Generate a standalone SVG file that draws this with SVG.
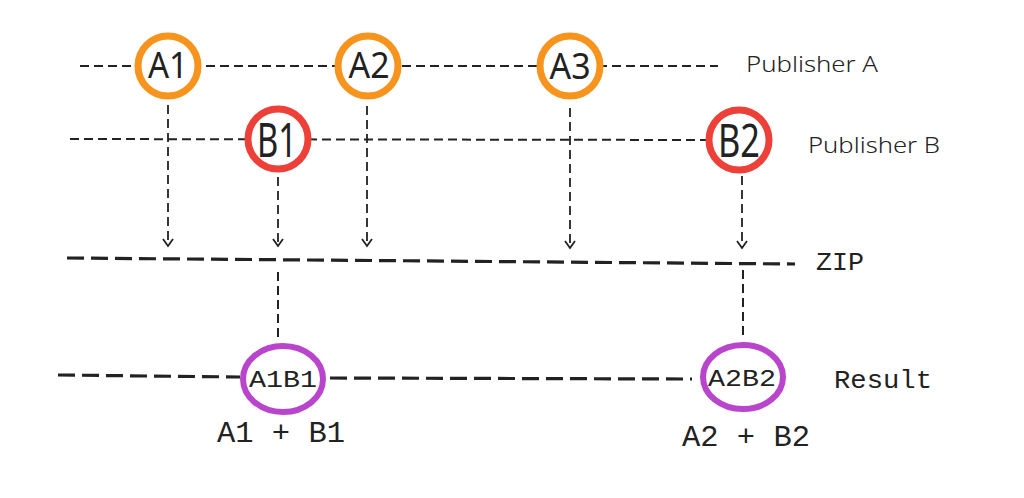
<svg xmlns="http://www.w3.org/2000/svg" width="1024" height="498" viewBox="0 0 1024 498">
<style>
.thin{stroke:#222;stroke-width:2;fill:none;stroke-dasharray:9 5}
.thick{stroke:#222;stroke-width:3.2;fill:none;stroke-dasharray:17 7}
.arr{stroke:#222;stroke-width:1.8;fill:none;stroke-dasharray:9 5;marker-end:url(#ah)}
.a{fill:#fff;stroke:#F7941D;stroke-width:7}
.b{fill:#fff;stroke:#EC4039;stroke-width:7}
.r{fill:#fff;stroke:#B845CC;stroke-width:6}
.lbl{font-family:"Noto Sans",sans-serif;fill:#222;text-anchor:middle}
.pub{font-family:"Noto Sans",sans-serif;font-weight:300;font-size:22px;fill:#222}
.mono{font-family:"Liberation Mono","DejaVu Sans Mono",monospace;fill:#222}
</style>
<defs>
<marker id="ah" markerUnits="userSpaceOnUse" markerWidth="14" markerHeight="14" refX="0" refY="0" viewBox="-8 -7 10 14" orient="auto">
<path d="M-7,-5 L0,0 L-7,5" fill="none" stroke="#222" stroke-width="1.8"/>
</marker>
</defs>
<g id="connectors">
<line class="thin" x1="80" y1="66" x2="718" y2="66"/>
<line class="thin" x1="70" y1="139" x2="710" y2="140"/>
<line class="arr" x1="168" y1="105" x2="168" y2="246"/>
<line class="arr" x1="278" y1="177" x2="278" y2="246"/>
<line class="arr" x1="367" y1="106" x2="367" y2="246"/>
<line class="arr" x1="570" y1="108" x2="570" y2="248"/>
<line class="arr" x1="742" y1="176" x2="742" y2="248"/>
<line class="thick" x1="67" y1="258" x2="795" y2="264"/>
<line class="thin" x1="278" y1="272" x2="278" y2="340"/>
<line class="thin" x1="743" y1="270" x2="743" y2="338"/>
<line class="thick" x1="58" y1="375" x2="240" y2="377"/>
<line class="thick" x1="330" y1="378" x2="692" y2="379"/>
</g>
<g id="A1"><circle class="a" cx="168" cy="66" r="30"/><text class="lbl" x="168" y="78" font-size="36" textLength="40" lengthAdjust="spacingAndGlyphs">A1</text></g>
<g id="A2"><circle class="a" cx="368" cy="66" r="30"/><text class="lbl" x="369" y="78" font-size="36" textLength="41" lengthAdjust="spacingAndGlyphs">A2</text></g>
<g id="A3"><circle class="a" cx="570" cy="66" r="30"/><text class="lbl" x="570" y="79" font-size="36" textLength="41" lengthAdjust="spacingAndGlyphs">A3</text></g>
<g id="B1"><circle class="b" cx="278" cy="139" r="30"/><text class="lbl" x="277" y="157" font-size="48" textLength="40" lengthAdjust="spacingAndGlyphs">B1</text></g>
<g id="B2"><circle class="b" cx="739" cy="140" r="30"/><text class="lbl" x="739" y="157" font-size="46" textLength="42" lengthAdjust="spacingAndGlyphs">B2</text></g>
<g id="A1B1"><ellipse class="r" cx="283" cy="379" rx="40" ry="33"/><text class="mono" x="249" y="387" font-size="24" textLength="68" lengthAdjust="spacingAndGlyphs">A1B1</text></g>
<g id="A2B2"><ellipse class="r" cx="743" cy="377" rx="40" ry="32"/><text class="mono" x="708" y="386" font-size="24" textLength="68" lengthAdjust="spacingAndGlyphs">A2B2</text></g>
<g id="labels">
<text class="pub" x="746" y="72" textLength="132" lengthAdjust="spacingAndGlyphs">Publisher A</text>
<text class="pub" x="808" y="153" textLength="132" lengthAdjust="spacingAndGlyphs">Publisher B</text>
<text class="mono" x="816" y="270" font-size="26" textLength="48" lengthAdjust="spacingAndGlyphs">ZIP</text>
<text class="mono" x="834" y="388" font-size="26" textLength="98" lengthAdjust="spacingAndGlyphs">Result</text>
<text class="mono" x="217" y="442" font-size="30" textLength="128" lengthAdjust="spacingAndGlyphs">A1 + B1</text>
<text class="mono" x="682" y="446" font-size="30" textLength="128" lengthAdjust="spacingAndGlyphs">A2 + B2</text>
</g>
</svg>
